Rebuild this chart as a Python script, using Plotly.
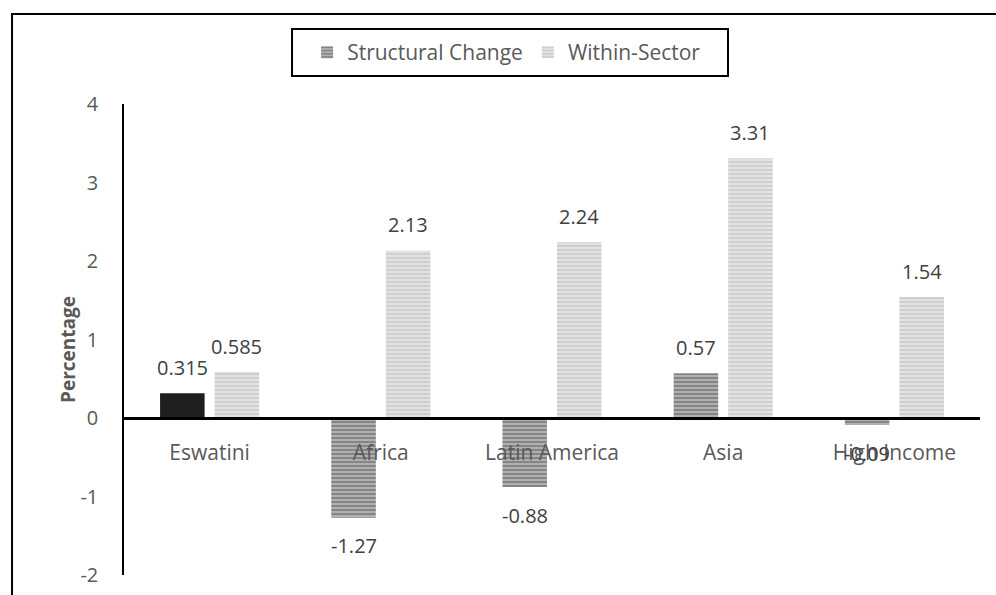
import plotly.graph_objects as go

# Average annual labour productivity growth decomposition (percent)
categories = ["Eswatini", "Africa", "Latin America", "Asia", "High Income"]
structural_change = [0.315, -1.27, -0.88, 0.57, -0.09]
within_sector = [0.585, 2.13, 2.24, 3.31, 1.54]
y_ticks = [-2, -1, 0, 1, 2, 3, 4]

FONT = "Open Sans"
SIZE = 20
TICK_GREY = "#595959"
LABEL_GREY = "#404040"

fig = go.Figure()

# Structural change: striped bars (Eswatini drawn solid in the same slot)
fig.add_trace(go.Bar(
    name="Structural Change",
    x=categories[1:], y=structural_change[1:],
    offsetgroup="s",
    marker=dict(
        color="#b0b0b0",
        line=dict(width=0),
        pattern=dict(shape="-", fillmode="overlay", fgcolor="#505050",
                     bgcolor="#b0b0b0", size=4, solidity=0.45),
    ),
))
fig.add_trace(go.Bar(
    name="Within-Sector",
    x=categories, y=within_sector,
    offsetgroup="w",
    marker=dict(
        color="#e2e2e2",
        line=dict(width=0),
        pattern=dict(shape="-", fillmode="overlay", fgcolor="#b8b8b8",
                     bgcolor="#e2e2e2", size=4, solidity=0.45),
    ),
))
fig.add_trace(go.Bar(
    name="Structural Change",
    x=categories[:1], y=structural_change[:1],
    offsetgroup="s", showlegend=False,
    marker=dict(color="#1e1e1e", line=dict(width=0)),
))

# Value labels beyond the bar ends
SHIFT = 27.25
for cat, s, w in zip(categories, structural_change, within_sector):
    for val, dx in ((s, -SHIFT), (w, SHIFT)):
        fig.add_annotation(
            x=cat, y=val, xshift=dx, yshift=26 if val >= 0 else -28,
            text=f"{val:g}", showarrow=False,
            font=dict(family=FONT, size=SIZE, color=LABEL_GREY),
        )

# Y axis title
fig.add_annotation(
    xref="paper", yref="paper", x=-0.0654, y=0.4777,
    xanchor="center", yanchor="middle",
    text="<b>Percentage</b>", textangle=-90, showarrow=False,
    font=dict(family=FONT, size=19, color=TICK_GREY),
)

# Outer chart frame and legend box
fig.add_shape(type="rect", xref="paper", yref="paper",
              x0=-0.1308, y0=-0.5, x1=1.5, y1=1.191,
              line=dict(color="black", width=2))
fig.add_shape(type="rect", xref="paper", yref="paper",
              x0=0.1963, y0=1.0594, x1=0.7056, y1=1.1592,
              line=dict(color="black", width=2))

fig.update_layout(
    width=996, height=595,
    margin=dict(l=124, r=16, t=104, b=20, autoexpand=False),
    paper_bgcolor="white", plot_bgcolor="white",
    barmode="group", bargap=0.363, bargroupgap=0.183,
    font=dict(family=FONT, size=SIZE, color=TICK_GREY),
    showlegend=True,
    legend=dict(orientation="h", x=0.447, xanchor="center",
                y=1.1093, yanchor="middle",
                font=dict(family=FONT, size=21, color=TICK_GREY),
                bgcolor="rgba(0,0,0,0)", borderwidth=0),
    xaxis=dict(type="category", categoryorder="array", categoryarray=categories,
               anchor="free", position=1/3,
               showline=True, linecolor="black", linewidth=3,
               showgrid=False, zeroline=False, ticks="",
               ticklabelstandoff=15,
               tickfont=dict(family=FONT, size=21, color=TICK_GREY)),
    yaxis=dict(range=[-2, 4], showline=True, linecolor="black",
               tickvals=y_ticks, ticktext=[str(t) for t in y_ticks],
               linewidth=1.5, showgrid=False, zeroline=False, ticks="",
               ticklabelstandoff=20,
               tickfont=dict(family=FONT, size=SIZE, color=TICK_GREY)),
)

fig.write_html("out.html")
